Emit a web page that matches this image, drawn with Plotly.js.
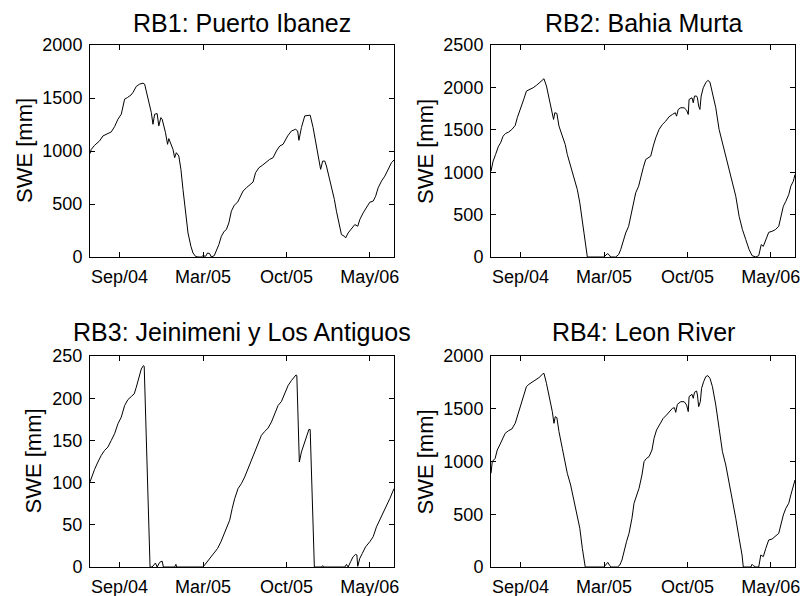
<!DOCTYPE html>
<html>
<head>
<meta charset="utf-8">
<script src="https://cdn.plot.ly/plotly-3.0.1.min.js"></script>
<style>
  html, body { margin: 0; padding: 0; background: #fff; }
  #chart { width: 804px; height: 596px; }
</style>
</head>
<body>
<div id="chart"></div>
<script>
// Snow water equivalent (SWE) per basin, July 2004 - June 2006.
// Day numbers count from 1 July 2004; values are SWE in mm.
const startDate = '2004-07-01';

const basinTitles = [
  'RB1: Puerto Ibanez',
  'RB2: Bahia Murta',
  'RB3: Jeinimeni y Los Antiguos',
  'RB4: Leon River'
];

const tickDates = ['2004-09-10', '2005-03-29', '2005-10-15', '2006-05-03'];
const tickLabels = ['Sep/04', 'Mar/05', 'Oct/05', 'May/06'];

const yMax = [2000, 2500, 250, 2000];
const yStep = [500, 500, 50, 500];

const rb1Day = [0,3,11,23,31,43,51,59,67,75,83,90,98,103,111,119,127,131,139,147,151,155,161,165,170,173,181,186,189,194,199,203,207,213,218,223,229,235,242,247,253,259,267,271,277,282,287,291,298,303,309,315,322,327,333,339,346,354,362,367,375,383,391,397,405,413,423,431,439,447,455,463,474,483,493,498,501,507,515,523,528,535,543,549,553,558,563,567,573,579,586,591,597,603,610,613,619,627,635,642,647,655,663,671,679,685,691,699,707,715,723,729];
const rb1Swe = [975,1015,1054,1095,1142,1167,1180,1230,1300,1347,1489,1505,1527,1552,1609,1631,1640,1631,1489,1363,1252,1347,1353,1237,1315,1300,1174,1063,1117,1063,1016,937,984,953,827,637,416,227,101,38,6,0,0,13,6,38,32,0,13,54,117,196,243,259,322,432,489,517,590,622,653,685,707,795,842,864,896,921,937,1000,1047,1063,1142,1189,1205,1189,1101,1221,1331,1338,1338,1221,1047,921,827,905,905,858,763,653,543,432,306,211,196,180,227,265,306,290,353,416,464,517,527,574,653,716,763,827,890,915];

const rb2Day = [0,5,11,18,23,29,35,42,50,58,63,69,74,79,85,93,101,109,117,123,127,133,139,146,150,153,158,163,171,178,183,191,199,207,213,219,226,231,271,275,279,283,287,299,306,311,317,323,330,335,341,347,354,359,365,371,378,383,389,395,403,411,419,427,435,442,445,449,455,463,469,473,475,482,485,488,493,495,498,501,504,509,515,520,525,531,539,547,555,563,571,579,587,595,603,611,619,626,631,635,642,645,648,653,659,666,674,682,690,695,701,707,714,719,725,729];
const rb2Swe = [1012,1130,1209,1307,1346,1425,1457,1472,1504,1551,1642,1720,1799,1866,1957,1976,1996,2024,2055,2087,2102,2016,1878,1740,1622,1701,1693,1543,1425,1327,1209,1071,933,795,638,402,165,0,0,16,39,28,0,0,28,87,185,283,362,480,638,756,835,953,1051,1150,1169,1189,1307,1405,1504,1563,1602,1654,1681,1701,1661,1740,1760,1760,1732,1681,1858,1878,1819,1898,1898,1878,1780,1740,1898,1996,2055,2083,2063,1937,1760,1504,1346,1209,1051,894,717,480,323,205,87,16,8,0,16,67,146,126,205,291,303,323,362,480,598,657,736,835,894,972];

const rb3Day = [0,5,11,19,27,35,43,51,59,67,75,83,91,99,106,111,117,123,128,130,144,149,153,157,161,167,173,176,203,206,208,271,275,282,290,298,306,314,322,330,335,341,347,355,363,371,379,387,395,403,411,419,427,435,443,451,459,467,475,483,490,494,496,502,507,514,520,525,528,538,555,558,560,611,615,619,625,631,637,640,642,647,653,661,671,679,687,695,703,711,719,729];
const rb3Swe = [100.8,108.7,115.7,124.4,132.3,138.2,142.1,150,157.9,169.7,177.6,191.3,198.4,202,205.1,213,222.8,234.6,238.6,237.8,0,0,2.4,4.7,0,5.5,7,0,0,3.1,0,0,2.4,7,12.2,16.1,22,29.9,39.8,47.6,55.5,69.3,81.1,92.9,98.8,106.7,116.5,126.4,136.2,146.1,155.9,160.6,164.6,171.7,181.5,191.3,196.1,205.1,215,220.9,226,227.6,226.8,124.4,136.2,146.1,153.9,163,163,0,0,1.6,0,0,3.1,0,6.3,12.2,15,14.2,0.8,10.2,16.1,24,29.9,35.8,47.6,55.5,65.4,73.2,81.1,92.9];

const rb4Day = [0,3,10,15,21,27,34,42,50,58,63,69,74,79,85,91,99,107,115,123,127,133,141,147,151,154,158,163,171,178,183,191,199,207,213,219,226,271,275,280,285,288,303,309,314,319,325,331,338,343,349,355,362,367,373,379,386,391,397,405,413,421,429,435,440,443,447,455,463,469,473,475,482,485,488,493,495,498,502,505,510,515,520,525,531,539,547,555,563,571,579,587,595,602,605,623,626,629,635,642,647,653,659,666,674,682,690,695,701,707,714,719,725,729];
const rb4Swe = [888,999,1030,1109,1157,1204,1267,1292,1308,1362,1425,1504,1583,1631,1710,1732,1751,1773,1795,1826,1836,1741,1599,1473,1362,1425,1416,1283,1125,999,888,777,635,493,367,177,0,0,19,44,13,0,0,19,66,161,240,319,461,604,683,746,872,999,1030,1046,1109,1220,1299,1362,1409,1441,1479,1504,1510,1466,1542,1567,1567,1536,1473,1615,1637,1599,1656,1668,1631,1520,1567,1694,1757,1804,1814,1789,1710,1536,1315,1093,967,809,651,461,272,114,0,0,25,13,0,0,114,98,177,256,265,288,319,398,493,556,604,683,777,825];

const seriesDays = [rb1Day, rb2Day, rb3Day, rb4Day];
const seriesSwe = [rb1Swe, rb2Swe, rb3Swe, rb4Swe];

function toDates(days) {
  const t0 = Date.parse(startDate + 'T00:00:00Z');
  return days.map(d => new Date(t0 + d * 86400000).toISOString().slice(0, 10));
}

// Panel placement on the 804 x 596 page (pixels): [left, right, top, bottom]
const W = 804, H = 596;
const boxes = [
  [90, 394, 45, 257],
  [491, 795, 45, 257],
  [90, 394, 356, 567],
  [491, 795, 356, 567]
];
const titleCenterY = [22.5, 22.5, 332, 332];
const ylabCenterX = [24, 425, 33, 425];

const font = 'Liberation Sans, Arial, Helvetica, sans-serif';
const traces = [];
const layout = {
  width: W, height: H,
  margin: {l: 0, r: 0, t: 0, b: 0},
  paper_bgcolor: '#fff',
  plot_bgcolor: '#fff',
  showlegend: false,
  font: {family: font, color: '#000'},
  annotations: []
};

for (let i = 0; i < 4; i++) {
  const n = i === 0 ? '' : String(i + 1);
  const [l, r, t, b] = boxes[i];
  traces.push({
    type: 'scatter', mode: 'lines',
    x: toDates(seriesDays[i]), y: seriesSwe[i],
    xaxis: 'x' + n, yaxis: 'y' + n,
    line: {color: '#000', width: 1},
    hoverinfo: 'skip'
  });
  const common = {
    showgrid: false, zeroline: false,
    showline: true, linecolor: '#000', linewidth: 1, mirror: 'ticks',
    ticks: 'inside', ticklen: 5, tickwidth: 1, tickcolor: '#000',
    tickfont: {family: font, size: 18, color: '#000'},
    fixedrange: true
  };
  layout['xaxis' + n] = Object.assign({}, common, {
    type: 'date',
    domain: [l / W, r / W],
    anchor: 'y' + n,
    range: ['2004-07-01', '2006-06-30'],
    tickmode: 'array', tickvals: tickDates, ticktext: tickLabels,
    ticklabelstandoff: 3
  });
  const ticks = [];
  for (let v = 0; v <= yMax[i]; v += yStep[i]) ticks.push(v);
  layout['yaxis' + n] = Object.assign({}, common, {
    domain: [1 - b / H, 1 - t / H],
    anchor: 'x' + n,
    range: [0, yMax[i]],
    tickmode: 'array', tickvals: ticks, ticktext: ticks.map(String),
    ticklabelstandoff: 3
  });
  layout.annotations.push({
    text: basinTitles[i], showarrow: false,
    xref: 'paper', yref: 'paper',
    x: (l + r) / 2 / W, y: 1 - titleCenterY[i] / H,
    xanchor: 'center', yanchor: 'middle',
    font: {family: font, size: 25, color: '#000'}
  });
  layout.annotations.push({
    text: 'SWE [mm]', showarrow: false, textangle: -90,
    xref: 'paper', yref: 'paper',
    x: ylabCenterX[i] / W, y: 1 - (t + b) / 2 / H,
    xanchor: 'center', yanchor: 'middle',
    font: {family: font, size: 22, color: '#000'}
  });
}

Plotly.newPlot('chart', traces, layout, {staticPlot: true, displayModeBar: false});
</script>
</body>
</html>
